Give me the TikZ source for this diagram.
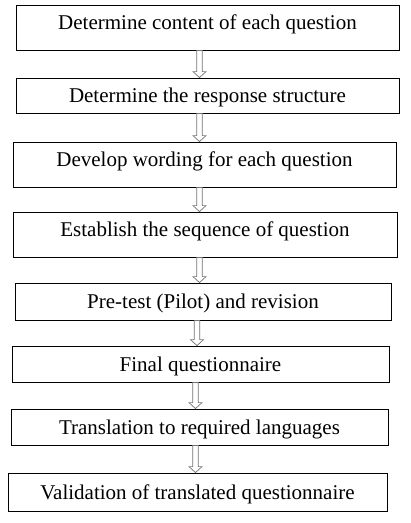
\documentclass[tikz,border=0pt]{standalone}
\usepackage{fontspec}
\setmainfont{Liberation Serif}
\usetikzlibrary{calc}

\tikzset{
  stepbox/.style={draw, line width=.8pt, minimum width=#1, inner xsep=2pt, inner ysep=2pt,
    text height=14pt, text depth=0pt, font=\fontsize{21}{25}\selectfont},
  tallbox/.style={text depth=10pt},
  hollow/.style={draw=black!55, fill=white, line width=.7pt,
    to path={let \p1=(\tikztostart), \p2=(\tikztotarget) in
      (\x1-2.8pt,\y1) -- (\x1-2.8pt,\y2+6pt) -- (\x1-6.5pt,\y2+6pt) -- (\x1,\y2)
      -- (\x1+6.5pt,\y2+6pt) -- (\x1+2.8pt,\y2+6pt) -- (\x1+2.8pt,\y1) -- cycle}}
}

\begin{document}
\begin{tikzpicture}[x=1pt,y=-1pt]
  \useasboundingbox (0,0) rectangle (411,523);

  \node[stepbox=383pt, tallbox, minimum height=45pt] (content) at (207.5,27.5) {Determine content of each question};
  \node[stepbox=383pt, minimum height=35pt] (response) at (207.5,95.5) {Determine the response structure};
  \node[stepbox=383pt, tallbox, minimum height=45pt] (wording) at (204.5,164.5) {Develop wording for each question};
  \node[stepbox=384pt, tallbox, minimum height=45pt] (sequence) at (205,234.5) {Establish the sequence of question};
  \node[stepbox=376pt, minimum height=37pt] (pilot) at (203,301.5) {Pre-test (Pilot) and revision};
  \node[stepbox=377pt, minimum height=36pt] (final) at (200.5,364) {Final questionnaire};
  \node[stepbox=377pt, minimum height=36pt] (translate) at (199.5,427) {Translation to required languages};
  \node[stepbox=379pt, minimum height=38pt] (validate) at (197.5,492) {Validation of translated questionnaire};

  % arrows between the steps
  \coordinate (ax) at (199.5,0);
  \coordinate (bx) at (197,0);
  \coordinate (cx) at (195.5,0);
  \draw[hollow] (content.south -| ax) to (response.north -| ax);
  \draw[hollow] (response.south -| ax) to (wording.north -| ax);
  \draw[hollow] (wording.south -| ax) to (sequence.north -| ax);
  \draw[hollow] (sequence.south -| ax) to (pilot.north -| ax);
  \draw[hollow] (pilot.south -| bx) to (final.north -| bx);
  \draw[hollow] (final.south -| cx) to (translate.north -| cx);
  \draw[hollow] (translate.south -| cx) to (validate.north -| cx);
\end{tikzpicture}
\end{document}
